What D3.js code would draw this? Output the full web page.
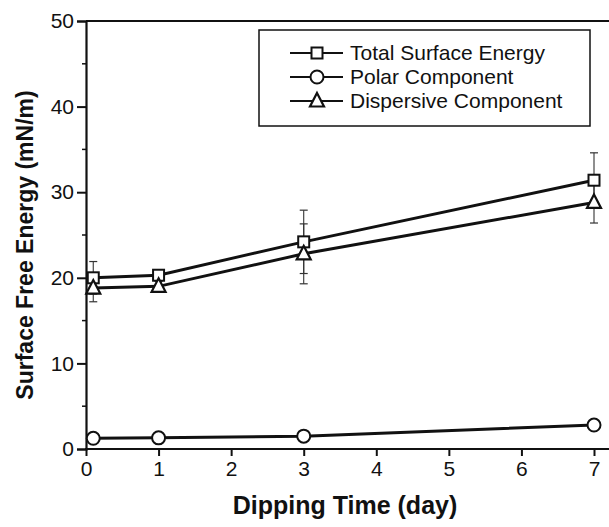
<!DOCTYPE html>
<html>
<head>
<meta charset="utf-8">
<script src="https://cdn.jsdelivr.net/npm/d3@7"></script>
<style>
  body { margin: 0; background: #fff; }
  svg { display: block; font-family: "Liberation Sans", Arial, sans-serif; }
</style>
</head>
<body>
<div id="chart"></div>
<script>
// dipping time (day)
const days = [0.1, 1, 3, 7]

const totalEnergy = [20.0, 20.3, 24.2, 31.4]
const totalErr = [1.9, 0.5, 3.7, 3.2]

const polarComp = [1.25, 1.3, 1.5, 2.8]
const polarErr = [0.3, 0.3, 0.2, 0.5]

const dispersiveComp = [18.8, 19.0, 22.8, 28.8]
const dispersiveErr = [1.6, 0.6, 3.5, 2.4]

const xTicks = [0, 1, 2, 3, 4, 5, 6, 7]
const yTicks = [0, 10, 20, 30, 40, 50]
const yMinorTicks = [5, 15, 25, 35, 45]

const seriesNames = ["Total Surface Energy", "Polar Component", "Dispersive Component"]
const seriesShapes = ["square", "circle", "triangle"]

const width = 609
const height = 527

const x = d3.scaleLinear().domain([0, 7]).range([86, 594])
const y = d3.scaleLinear().domain([0, 50]).range([449, 21])

const svg = d3.select("#chart").append("svg")
    .attr("width", width)
    .attr("height", height)

const series = [
    { name: seriesNames[0], shape: seriesShapes[0], values: totalEnergy, err: totalErr },
    { name: seriesNames[1], shape: seriesShapes[1], values: polarComp, err: polarErr },
    { name: seriesNames[2], shape: seriesShapes[2], values: dispersiveComp, err: dispersiveErr }
]

function drawMarker(g, shape, cx, cy) {
    if (shape == "square") {
        g.append("rect")
            .attr("x", cx - 5.5).attr("y", cy - 5.5)
            .attr("width", 11).attr("height", 11)
            .attr("fill", "#fff").attr("stroke", "#111").attr("stroke-width", 2)
    } else if (shape == "circle") {
        g.append("circle")
            .attr("cx", cx).attr("cy", cy).attr("r", 6.5)
            .attr("fill", "#fff").attr("stroke", "#111").attr("stroke-width", 2)
    } else {
        const pts = [[cx, cy - 8], [cx + 7, cy + 5.5], [cx - 7, cy + 5.5]]
        g.append("path")
            .attr("d", "M" + pts.join("L") + "Z")
            .attr("fill", "#fff").attr("stroke", "#111").attr("stroke-width", 2.2)
    }
}

// frame: top line, extends past right edge (cropped)
svg.append("line")
    .attr("x1", x(0)).attr("x2", 620)
    .attr("y1", y(50)).attr("y2", y(50))
    .attr("stroke", "#111").attr("stroke-width", 2)

// y axis
const yAxis = d3.axisLeft(y)
    .tickValues(yTicks)
    .tickSize(9)
    .tickPadding(3)
    .tickFormat(d3.format("d"))

const gy = svg.append("g")
    .attr("transform", "translate(" + x(0) + ",0)")
    .call(yAxis)
gy.select(".domain").attr("stroke", "#111").attr("stroke-width", 2.2)
gy.selectAll(".tick line").attr("stroke", "#111").attr("stroke-width", 2)
gy.selectAll(".tick text")
    .attr("fill", "#111")
    .style("font-size", "21px")

gy.selectAll(".minor")
    .data(yMinorTicks)
    .enter()
    .append("line")
    .attr("class", "minor")
    .attr("x1", -4).attr("x2", 0)
    .attr("y1", function (d) { return y(d) })
    .attr("y2", function (d) { return y(d) })
    .attr("stroke", "#111").attr("stroke-width", 1.5)

// x axis, also runs off to the right
const xAxis = d3.axisBottom(x)
    .tickValues(xTicks)
    .tickSize(7)
    .tickPadding(5)
    .tickSizeOuter(0)
    .tickFormat(d3.format("d"))

const gx = svg.append("g")
    .attr("transform", "translate(0," + y(0) + ")")
    .call(xAxis)
gx.select(".domain").remove()
gx.append("line")
    .attr("x1", x(0) - 1).attr("x2", 620)
    .attr("stroke", "#111").attr("stroke-width", 2.2)
gx.selectAll(".tick line").attr("stroke", "#111").attr("stroke-width", 2)
gx.selectAll(".tick text")
    .attr("fill", "#111")
    .style("font-size", "21px")

// axis titles
svg.append("text")
    .attr("x", 345)
    .attr("y", 514)
    .attr("text-anchor", "middle")
    .style("font-size", "25px")
    .style("font-weight", "bold")
    .attr("fill", "#111")
    .text("Dipping Time (day)")

svg.append("text")
    .attr("transform", "translate(33,245) rotate(-90)")
    .attr("text-anchor", "middle")
    .style("font-size", "23px")
    .style("font-weight", "bold")
    .attr("fill", "#111")
    .text("Surface Free Energy (mN/m)")

// error bars
const errG = svg.append("g")
series.forEach(function (s) {
    s.values.forEach(function (v, i) {
        const cx = x(days[i])
        const top = y(v + s.err[i])
        const bottom = y(v - s.err[i])
        errG.append("line")
            .attr("x1", cx).attr("x2", cx)
            .attr("y1", top).attr("y2", bottom)
            .attr("stroke", "#333").attr("stroke-width", 1.1)
        errG.append("line")
            .attr("x1", cx - 4).attr("x2", cx + 4)
            .attr("y1", top).attr("y2", top)
            .attr("stroke", "#333").attr("stroke-width", 1.2)
        errG.append("line")
            .attr("x1", cx - 4).attr("x2", cx + 4)
            .attr("y1", bottom).attr("y2", bottom)
            .attr("stroke", "#333").attr("stroke-width", 1.2)
    })
})

// lines
const line = d3.line()
    .x(function (d, i) { return x(days[i]) })
    .y(function (d) { return y(d) })

series.forEach(function (s) {
    svg.append("path")
        .datum(s.values)
        .attr("d", line)
        .attr("fill", "none")
        .attr("stroke", "#111")
        .attr("stroke-width", 3)
})

// markers
series.forEach(function (s) {
    const g = svg.append("g")
    s.values.forEach(function (v, i) {
        drawMarker(g, s.shape, x(days[i]), y(v))
    })
})

// legend
const legend = svg.append("g")
legend.append("rect")
    .attr("x", 259).attr("y", 30)
    .attr("width", 331).attr("height", 96)
    .attr("fill", "#fff")
    .attr("stroke", "#111").attr("stroke-width", 1.5)

series.forEach(function (s, i) {
    const ly = 53 + i * 24
    legend.append("line")
        .attr("x1", 290).attr("x2", 343)
        .attr("y1", ly).attr("y2", ly)
        .attr("stroke", "#111").attr("stroke-width", 1.8)
    drawMarker(legend, s.shape, 317, ly)
    legend.append("text")
        .attr("x", 350)
        .attr("y", ly)
        .attr("dy", "0.35em")
        .style("font-size", "21px")
        .attr("fill", "#111")
        .text(s.name)
})
</script>
</body>
</html>
